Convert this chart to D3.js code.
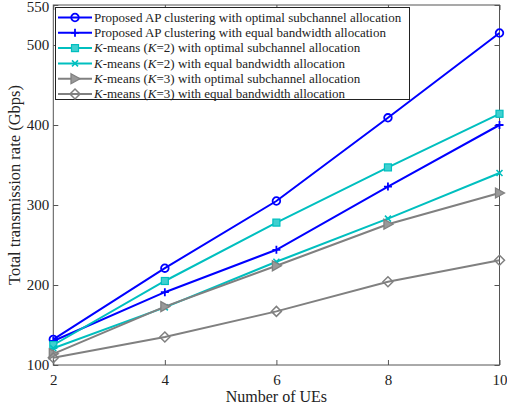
<!DOCTYPE html>
<html>
<head>
<meta charset="utf-8">
<script src="https://cdn.jsdelivr.net/npm/d3@7"></script>
<style>
  html, body { margin: 0; padding: 0; background: #fff; }
  svg { display: block; font-family: "Liberation Serif", "Times New Roman", serif; }
</style>
</head>
<body>
<svg id="chart" width="507" height="411"></svg>
<script>
// Number of UEs
const ues = [2, 4, 6, 8, 10];

// Total transmission rate (Gbps) for each scheme
const apOptimal   = [132, 221, 305, 409, 515];
const apEqual     = [130, 191, 244, 323, 400];
const k2Optimal   = [125, 205, 278, 347, 414];
const k2Equal     = [121, 172, 229, 283, 340];
const k3Optimal   = [114, 173, 224, 276, 315];
const k3Equal     = [109, 135, 167, 204, 231];

const yTicks = [100, 200, 300, 400, 500, 550];
const xTicks = [2, 4, 6, 8, 10];

const seriesNames = [
  ["Proposed AP clustering with optimal subchannel allocation"],
  ["Proposed AP clustering with equal bandwidth allocation"],
  ["K", "-means (", "K", "=2) with optimal subchannel allocation"],
  ["K", "-means (", "K", "=2) with equal bandwidth allocation"],
  ["K", "-means (", "K", "=3) with optimal subchannel allocation"],
  ["K", "-means (", "K", "=3) with equal bandwidth allocation"]
];

const blue = "#0000ff", cyan = "#00bfbf", gray = "#808080";
const series = [
  { values: apOptimal, color: blue, marker: "circle" },
  { values: apEqual,   color: blue, marker: "plus" },
  { values: k2Optimal, color: cyan, marker: "square" },
  { values: k2Equal,   color: cyan, marker: "cross" },
  { values: k3Optimal, color: gray, marker: "triangle" },
  { values: k3Equal,   color: gray, marker: "diamond" }
];

const svg = d3.select("#chart");
const plotLeft = 53.3, plotRight = 499.5, plotTop = 5, plotBottom = 365;
const x = d3.scaleLinear().domain([2, 10]).range([plotLeft, plotRight]);
const y = d3.scaleLinear().domain([100, 550]).range([plotBottom, plotTop]);
const axisColor = "#555";

// Plot box
svg.append("rect")
  .attr("x", plotLeft).attr("y", plotTop)
  .attr("width", plotRight - plotLeft).attr("height", plotBottom - plotTop)
  .attr("fill", "none").attr("stroke", axisColor).attr("stroke-width", 1);

function styleAxis(g) {
  g.select(".domain").remove();
  g.selectAll(".tick line").attr("stroke", axisColor);
  g.selectAll(".tick text").attr("fill", "#222").attr("font-size", 15)
    .attr("font-family", "Liberation Serif, serif");
}

// Bottom and top axes (ticks point inward)
svg.append("g").attr("transform", `translate(0,${plotBottom})`)
  .call(d3.axisBottom(x).tickValues(xTicks).tickSizeInner(-5).tickSizeOuter(0).tickPadding(9).tickFormat(d3.format("d")))
  .call(styleAxis);
svg.append("g").attr("transform", `translate(0,${plotTop})`)
  .call(d3.axisTop(x).tickValues(xTicks).tickSizeInner(-5).tickSizeOuter(0).tickFormat(""))
  .call(styleAxis);

// Left and right axes
svg.append("g").attr("transform", `translate(${plotLeft},0)`)
  .call(d3.axisLeft(y).tickValues(yTicks).tickSizeInner(-5).tickSizeOuter(0).tickPadding(4).tickFormat(d3.format("d")))
  .call(styleAxis)
  .call(g => g.selectAll(".tick text").filter(d => d === 550).attr("dy", "0.45em"));
svg.append("g").attr("transform", `translate(${plotRight},0)`)
  .call(d3.axisRight(y).tickValues(yTicks).tickSizeInner(-5).tickSizeOuter(0).tickFormat(""))
  .call(styleAxis);

// Axis titles
svg.append("text")
  .attr("x", (plotLeft + plotRight) / 2).attr("y", 402)
  .attr("text-anchor", "middle").attr("font-size", 16).attr("fill", "#222")
  .text("Number of UEs");
svg.append("text")
  .attr("transform", `translate(20,${(plotTop + plotBottom) / 2}) rotate(-90)`)
  .attr("text-anchor", "middle").attr("font-size", 16.5).attr("fill", "#222")
  .text("Total transmission rate (Gbps)");

// Marker drawing
function drawMarker(g, type, color, cx, cy) {
  const m = g.append("g").attr("transform", `translate(${cx},${cy})`);
  if (type === "circle") {
    m.append("circle").attr("r", 3.8).attr("fill", "none").attr("stroke", color).attr("stroke-width", 1.8);
  } else if (type === "plus") {
    m.append("path").attr("d", "M-4,0H4M0,-4V4").attr("stroke", color).attr("stroke-width", 1.8);
  } else if (type === "square") {
    m.append("rect").attr("x", -3.5).attr("y", -3.5).attr("width", 7).attr("height", 7)
      .attr("fill", "#40d0d0").attr("stroke", color).attr("stroke-width", 1.2);
  } else if (type === "cross") {
    m.append("path").attr("d", "M-3,-3L3,3M-3,3L3,-3").attr("stroke", color).attr("stroke-width", 1.6);
  } else if (type === "triangle") {
    m.append("path").attr("d", "M-4,-5L5,0L-4,5Z").attr("fill", "#999").attr("stroke", color).attr("stroke-width", 1.3);
  } else if (type === "diamond") {
    m.append("path").attr("d", "M0,-5L5,0L0,5L-5,0Z").attr("fill", "none").attr("stroke", color).attr("stroke-width", 1.5);
  }
}

const line = d3.line().x((d, i) => x(ues[i])).y(d => y(d));
const plot = svg.append("g");
series.forEach(s => {
  plot.append("path").datum(s.values)
    .attr("d", line).attr("fill", "none")
    .attr("stroke", s.color).attr("stroke-width", 2);
  s.values.forEach((v, i) => drawMarker(plot, s.marker, s.color, x(ues[i]), y(v)));
});

// Legend
const lg = svg.append("g");
lg.append("rect").attr("x", 55.5).attr("y", 7.5).attr("width", 354).attr("height", 92)
  .attr("fill", "#fff").attr("stroke", "#222").attr("stroke-width", 1);
series.forEach((s, i) => {
  const ly = 17.5 + i * 15.3;
  lg.append("line").attr("x1", 58).attr("x2", 92).attr("y1", ly).attr("y2", ly)
    .attr("stroke", s.color).attr("stroke-width", 2);
  drawMarker(lg, s.marker, s.color, 75, ly);
  const t = lg.append("text").attr("x", 94).attr("y", ly + 4.3)
    .attr("font-size", 13).attr("fill", "#222");
  const parts = seriesNames[i];
  if (parts.length === 1) {
    t.text(parts[0]);
  } else {
    parts.forEach(p => {
      t.append("tspan").attr("font-style", p === "K" ? "italic" : "normal").text(p);
    });
  }
});
</script>
</body>
</html>
